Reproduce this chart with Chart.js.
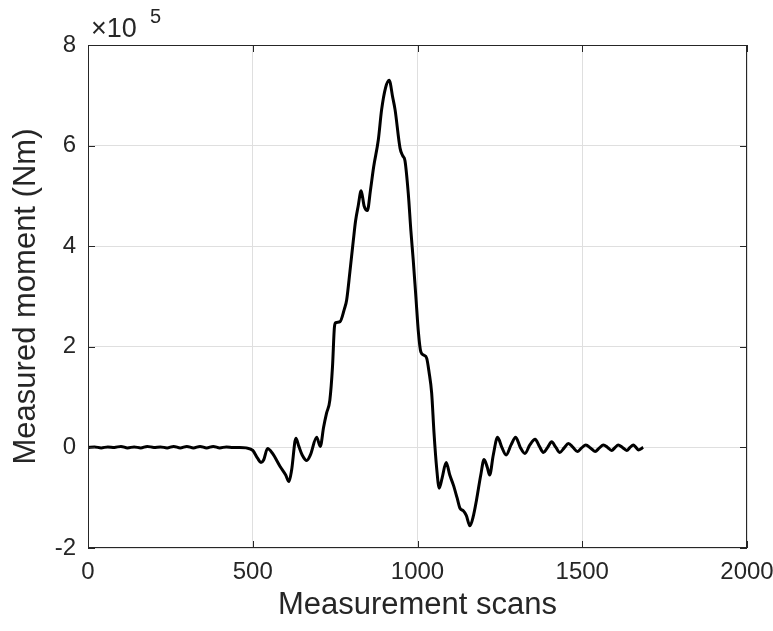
<!DOCTYPE html>
<html>
<head>
<meta charset="utf-8">
<script src="https://cdn.jsdelivr.net/npm/chart.js@4/dist/chart.umd.min.js"></script>
<style>
  html, body { margin: 0; padding: 0; background: #fff; }
  #wrap { width: 773px; height: 631px; }
</style>
</head>
<body>
<div id="wrap"><canvas id="myChart"></canvas></div>
<script>
// measurement scan index
var scans = [
    0, 20, 40, 60, 80, 100, 120, 140, 160, 180, 200, 220, 240, 260, 280, 300, 320, 340, 360, 380,
    400, 420, 440, 460, 480, 500, 515, 525, 533, 545, 560, 583, 600, 610, 618, 631, 640, 650, 664, 675,
    694, 705, 715, 724, 734, 742, 748, 752, 765, 778, 785, 795, 805, 812, 820, 829, 838, 848, 857, 867,
    881, 891, 903, 914, 925, 932, 947, 955, 962, 972, 980, 987, 995, 1003, 1010, 1020, 1028, 1035, 1043, 1050,
    1058, 1066, 1075, 1087, 1098, 1109, 1120, 1129, 1139, 1148, 1159, 1170, 1179, 1192, 1202, 1212, 1219, 1230, 1243, 1256,
    1269, 1284, 1298, 1312, 1326, 1341, 1357, 1370, 1382, 1395, 1407, 1420, 1432, 1445, 1458, 1472, 1485, 1498, 1511, 1525,
    1539, 1552, 1564, 1577, 1589, 1600, 1609, 1622, 1635, 1645, 1655, 1663, 1670, 1685
];

// measured moment, in units of 10^5 Nm
var moment = [
    0.00, 0.01, -0.01, 0.01, 0.00, 0.02, -0.01, 0.01, -0.01, 0.02, 0.00, 0.01, -0.01, 0.02, -0.01, 0.02, -0.01, 0.02, -0.01, 0.02,
    -0.01, 0.01, 0.00, 0.00, -0.01, -0.06, -0.22, -0.30, -0.25, -0.02, -0.12, -0.38, -0.55, -0.68, -0.45, 0.18, 0.02, -0.15, -0.26, -0.15,
    0.20, 0.02, 0.40, 0.68, 0.94, 1.60, 2.40, 2.48, 2.50, 2.75, 2.93, 3.50, 4.10, 4.50, 4.80, 5.10, 4.80, 4.71, 5.10, 5.58,
    6.11, 6.71, 7.15, 7.30, 6.95, 6.71, 5.95, 5.80, 5.70, 5.05, 4.30, 3.73, 3.00, 2.27, 1.90, 1.83, 1.77, 1.50, 1.08, 0.30,
    -0.40, -0.81, -0.60, -0.30, -0.55, -0.75, -1.00, -1.21, -1.26, -1.35, -1.56, -1.35, -1.05, -0.55, -0.24, -0.40, -0.55, -0.15, 0.20, 0.00,
    -0.15, 0.05, 0.20, 0.00, -0.12, 0.05, 0.16, 0.02, -0.10, 0.00, 0.11, 0.00, -0.10, -0.01, 0.08, 0.00, -0.08, -0.01, 0.05, -0.01,
    -0.08, -0.01, 0.05, 0.00, -0.06, 0.00, 0.05, 0.00, -0.06, 0.00, 0.05, 0.00, -0.05, 0.00
];

var xTicks = [0, 500, 1000, 1500, 2000];
var yTicks = [-2, 0, 2, 4, 6, 8];

var axisColor = '#262626';
var gridColor = '#dfdfdf';
var fontFamily = "'Liberation Sans', Arial, Helvetica, sans-serif";

// box round the plot, inward tick marks and the x10^5 multiplier
var matlabBox = {
    id: 'matlabBox',
    afterDraw: function (chart) {
        var c = chart.ctx;
        var a = chart.chartArea;
        var xs = chart.scales.x, ys = chart.scales.y;
        var tl = 7;
        c.save();
        c.strokeStyle = axisColor;
        c.lineWidth = 1;
        c.strokeRect(a.left + 0.5, a.top + 0.5, a.right - a.left - 1, a.bottom - a.top - 1);
        c.beginPath();
        xTicks.forEach(function (v) {
            var px = Math.round(xs.getPixelForValue(v)) + 0.5;
            c.moveTo(px, a.bottom); c.lineTo(px, a.bottom - tl);
            c.moveTo(px, a.top); c.lineTo(px, a.top + tl);
        });
        yTicks.forEach(function (v) {
            var py = Math.round(ys.getPixelForValue(v)) + 0.5;
            c.moveTo(a.left, py); c.lineTo(a.left + tl, py);
            c.moveTo(a.right, py); c.lineTo(a.right - tl, py);
        });
        c.stroke();

        c.fillStyle = axisColor;
        c.textBaseline = 'alphabetic';
        c.textAlign = 'left';
        c.font = '27px ' + fontFamily;
        c.fillText('\u00d710', a.left + 3, a.top - 8);
        c.font = '20px ' + fontFamily;
        c.fillText('5', a.left + 62, a.top - 22);
        c.restore();
    }
};

function plainLabel(value) { return String(value); }

var ctx = document.getElementById('myChart').getContext('2d');
var myChart = new Chart(ctx, {
    type: 'line',
    data: {
        datasets: [{
            label: 'Measured moment',
            data: scans.map(function (s, i) { return {x: s, y: moment[i]}; }),
            borderColor: '#000000',
            borderWidth: 3,
            pointRadius: 0,
            fill: false,
            cubicInterpolationMode: 'monotone'
        }]
    },
    options: {
        responsive: true,
        maintainAspectRatio: false,
        animation: false,
        layout: { padding: { top: 45, right: 26, left: 0, bottom: 0 } },
        plugins: {
            legend: { display: false },
            tooltip: { enabled: false }
        },
        scales: {
            x: {
                type: 'linear',
                min: 0,
                max: 2000,
                afterFit: function (scale) {
                    scale.height = 83;
                    scale.paddingLeft = 0;
                    scale.paddingRight = 0;
                },
                afterBuildTicks: function (scale) {
                    scale.ticks = xTicks.map(function (v) { return {value: v}; });
                },
                grid: { color: gridColor, drawTicks: false },
                border: { display: false },
                ticks: {
                    color: axisColor,
                    padding: 10,
                    maxRotation: 0,
                    callback: plainLabel,
                    font: { family: fontFamily, size: 24 }
                },
                title: {
                    display: true,
                    text: 'Measurement scans',
                    color: axisColor,
                    padding: { top: 0, bottom: 7 },
                    font: { family: fontFamily, size: 31 }
                }
            },
            y: {
                min: -2,
                max: 8,
                afterFit: function (scale) {
                    scale.width = 88;
                    scale.paddingTop = 0;
                    scale.paddingBottom = 0;
                },
                afterBuildTicks: function (scale) {
                    scale.ticks = yTicks.map(function (v) { return {value: v}; });
                },
                grid: { color: gridColor, drawTicks: false },
                border: { display: false },
                ticks: {
                    color: axisColor,
                    padding: 12,
                    callback: plainLabel,
                    font: { family: fontFamily, size: 24 }
                },
                title: {
                    display: true,
                    text: 'Measured moment (Nm)',
                    color: axisColor,
                    padding: { top: 8, bottom: 0 },
                    font: { family: fontFamily, size: 31 }
                }
            }
        }
    },
    plugins: [matlabBox]
});
</script>
</body>
</html>
